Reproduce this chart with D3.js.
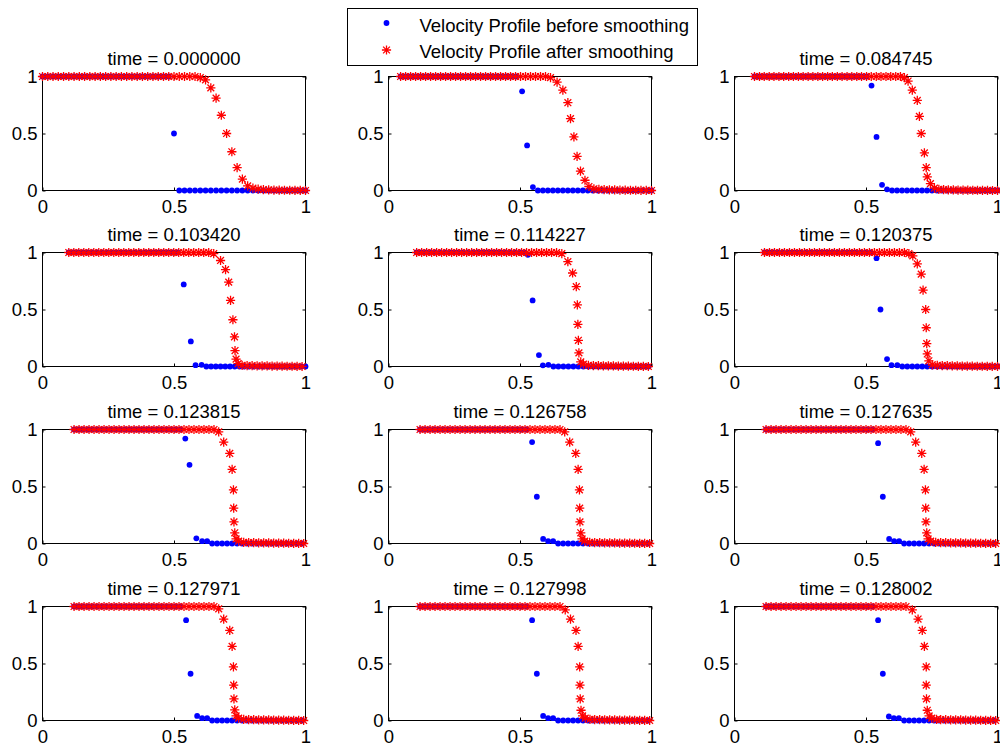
<!DOCTYPE html>
<html><head><meta charset="utf-8">
<script src="https://cdn.jsdelivr.net/npm/d3@7"></script>
<style>
body{margin:0;background:#fff}
svg{display:block}
text{font-family:"Liberation Sans",Arial,Helvetica,sans-serif}
</style>
</head><body>
<svg id="c" width="1000" height="747"></svg>
<script>
// ---------------- data ----------------
const times = ["0.000000", null, "0.084745", "0.103420", "0.114227", "0.120375",
               "0.123815", "0.126758", "0.127635", "0.127971", "0.127998", "0.128002"];
const xTicks = [0, 0.5, 1];
const xTickLabels = ["0", "0.5", "1"];
const yTicks = [0, 0.5, 1];
const yTickLabels = ["0", "0.5", "1"];
const legendLabels = ["Velocity Profile before smoothing", "Velocity Profile after smoothing"];

const gridT0 = [0,0.02,0.04,0.06,0.08,0.1,0.12,0.14,0.16,0.18,0.2,0.22,0.24,0.26,0.28,0.3,0.32,0.34,0.36,0.38,0.4,0.42,0.44,0.46,0.48,
  0.5,0.52,0.54,0.56,0.58,0.6,0.62,0.64,0.66,0.68,0.7,0.72,0.74,0.76,0.78,0.8,0.82,0.84,0.86,0.88,0.9,0.92,0.94,0.96,0.98,1];

const ones24 = [1,1,1,1,1, 1,1,1,1,1, 1,1,1,1,1, 1,1,1,1,1, 1,1,1,1];
const ones29 = [1,1,1,1,1, 1,1,1,1,1, 1,1,1,1,1, 1,1,1,1,1, 1,1,1,1,1, 1,1,1,1];
const zeros19 = [0,0,0,0,0, 0,0,0,0,0, 0,0,0,0,0, 0,0,0,0];
const zeros20 = [0,0,0,0,0, 0,0,0,0,0, 0,0,0,0,0, 0,0,0,0,0];
const zeros22 = [0,0,0,0,0, 0,0,0,0,0, 0,0,0,0,0, 0,0,0,0,0, 0,0];

const bluePlateauLate = [0.120,0.138,0.155,0.173,0.190,0.208,0.226,0.243,0.261,0.278,0.296,0.314,0.331,0.349,0.366,0.384,0.402,0.419,0.437,0.454,0.472,0.490,0.507,0.525];
const blueTailLate = [0.645,0.664,0.683,0.702,0.721,0.740,0.759,0.778,0.797,0.816,0.835,0.854,0.873,0.892,0.911,0.930,0.949,0.968,0.987];
const redPlateauLate = [0.120,0.139,0.158,0.177,0.196,0.215,0.234,0.253,0.272,0.291,0.310,0.329,0.348,0.367,0.386,0.405,0.424,0.443,0.462,0.481,0.500,0.519,0.538,0.557,0.576,0.595,0.614,0.633,0.652];
const redTailLate = [0.784,0.803,0.822,0.841,0.860,0.879,0.898,0.917,0.936,0.955,0.974,0.993];
const redTailLateY = [0.008,0.007,0.006,0.005,0.005,0.004,0.003,0.003,0.002,0.001,0.001,0];

const blueX = [
  gridT0,
  [0.046,0.065,0.084,0.103,0.122,0.141,0.160,0.180,0.199,0.218,0.237,0.256,0.275,0.294,0.313,0.332,0.351,0.370,0.389,0.409,0.428,0.447,0.466,0.485,
   0.508,0.527,0.549,
   0.568,0.587,0.606,0.625,0.644,0.663,0.682,0.701,0.720,0.739,0.758,0.777,0.796,0.815,0.834,0.853,0.872,0.891,0.910,0.929,0.948,0.967,0.986,1.0],
  [0.076,0.094,0.113,0.131,0.150,0.168,0.187,0.205,0.224,0.242,0.261,0.279,0.298,0.316,0.335,0.353,0.372,0.390,0.409,0.427,0.446,0.464,0.483,0.501,
   0.521,0.540,0.561,0.580,
   0.599,0.618,0.637,0.656,0.675,0.694,0.713,0.732,0.751,0.770,0.789,0.808,0.827,0.846,0.865,0.884,0.903,0.922,0.941,0.960,0.979,1.0],
  [0.100,0.118,0.136,0.154,0.172,0.190,0.208,0.226,0.244,0.262,0.280,0.298,0.316,0.334,0.352,0.370,0.388,0.406,0.424,0.442,0.460,0.478,0.496,0.514,
   0.537,0.564,0.582,0.605,
   0.623,0.641,0.659,0.677,0.695,0.713,0.731,0.749,0.767,0.785,0.803,0.821,0.839,0.857,0.875,0.893,0.911,0.929,0.947,0.965,0.983,1.0],
  [0.107,0.125,0.143,0.160,0.178,0.196,0.214,0.232,0.249,0.267,0.285,0.303,0.321,0.338,0.356,0.374,0.392,0.410,0.427,0.445,0.463,0.481,0.499,0.516,
   0.530,0.548,0.572,0.587,0.608,
   0.627,0.646,0.665,0.684,0.703,0.722,0.741,0.760,0.779,0.798,0.817,0.836,0.855,0.874,0.893,0.912,0.931,0.950,0.969,0.988],
  [0.114,0.132,0.149,0.167,0.184,0.202,0.219,0.237,0.254,0.272,0.289,0.307,0.324,0.342,0.359,0.377,0.394,0.412,0.429,0.447,0.464,0.482,0.499,0.517,
   0.540,0.555,0.580,0.597,0.619,
   0.638,0.657,0.676,0.695,0.714,0.733,0.752,0.771,0.790,0.809,0.828,0.847,0.866,0.885,0.904,0.923,0.942,0.961,0.980,1.0],
  [...bluePlateauLate, 0.543,0.559,0.585,0.607,0.626, ...blueTailLate],
  [...bluePlateauLate, 0.546,0.564,0.588,0.607,0.626, ...blueTailLate],
  [...bluePlateauLate, 0.546,0.564,0.588,0.607,0.626, ...blueTailLate],
  [...bluePlateauLate, 0.546,0.563,0.588,0.607,0.626, ...blueTailLate],
  [...bluePlateauLate, 0.546,0.564,0.588,0.607,0.626, ...blueTailLate],
  [...bluePlateauLate, 0.546,0.564,0.587,0.606,0.625, ...blueTailLate]
];
const blueY = [
  [1,1,1,1,1, 1,1,1,1,1, 1,1,1,1,1, 1,1,1,1,1, 1,1,1,1,1, 0.5, 0,0,0,0,0, 0,0,0,0,0, 0,0,0,0,0, 0,0,0,0,0, 0,0,0,0,0],
  [...ones24, 0.87,0.395,0.03, 0, ...zeros22, 0],
  [...ones24, 0.92,0.47,0.05,0.01, ...zeros22],
  [...ones24, 0.72,0.22,0.012,0.015, ...zeros22],
  [...ones24, 0.98,0.58,0.10,0.01,0.015, ...zeros20],
  [...ones24, 0.95,0.50,0.065,0.012,0.012, ...zeros20],
  [...ones24, 0.92,0.69,0.045,0.02,0.02, ...zeros19],
  [...ones24, 0.89,0.41,0.04,0.02,0.02, ...zeros19],
  [...ones24, 0.88,0.41,0.04,0.02,0.02, ...zeros19],
  [...ones24, 0.88,0.41,0.04,0.02,0.02, ...zeros19],
  [...ones24, 0.88,0.41,0.04,0.02,0.02, ...zeros19],
  [...ones24, 0.88,0.41,0.035,0.02,0.02, ...zeros19]
];

const redX = [
  gridT0,
  [0.046,0.065,0.084,0.103,0.122,0.141,0.160,0.179,0.198,0.217,0.236,0.255,0.274,0.293,0.312,0.331,0.350,0.369,0.388,0.407,0.426,0.445,0.464,0.483,0.502,0.521,0.540,0.559,0.578,0.597,0.616,
   0.641,0.663,0.682,0.692,0.705,0.717,0.730,0.747,0.762,0.781,
   0.800,0.820,0.840,0.860,0.880,0.900,0.920,0.940,0.960,0.980,1.0],
  [0.076,0.095,0.113,0.132,0.150,0.169,0.187,0.206,0.224,0.243,0.261,0.280,0.298,0.317,0.335,0.354,0.372,0.391,0.409,0.428,0.446,0.465,0.483,0.502,0.520,0.539,0.557,0.576,0.594,0.613,0.631,
   0.646,0.660,0.676,0.695,0.703,0.710,0.722,0.729,0.733,0.745,0.760,0.777,
   0.795,0.813,0.832,0.850,0.869,0.887,0.906,0.924,0.943,0.962,0.981,1.0],
  [0.100,0.119,0.138,0.157,0.176,0.195,0.214,0.233,0.252,0.271,0.290,0.309,0.328,0.347,0.366,0.385,0.404,0.423,0.442,0.461,0.480,0.499,0.518,0.537,0.556,0.575,0.594,0.613,0.632,
   0.651,0.677,0.696,0.708,0.715,0.724,0.730,0.732,0.736,0.744,0.759,
   0.778,0.797,0.816,0.835,0.854,0.873,0.892,0.911,0.930,0.949,0.968,0.987],
  [0.107,0.126,0.145,0.164,0.183,0.202,0.221,0.240,0.259,0.278,0.297,0.316,0.335,0.354,0.373,0.392,0.411,0.430,0.449,0.468,0.487,0.506,0.525,0.544,0.563,0.582,0.601,0.620,0.639,
   0.659,0.682,0.700,0.714,0.718,0.720,0.722,0.724,0.731,0.741,0.760,
   0.779,0.798,0.817,0.836,0.855,0.874,0.893,0.912,0.931,0.950,0.969,0.988],
  [0.114,0.133,0.152,0.171,0.190,0.209,0.228,0.247,0.266,0.285,0.304,0.323,0.342,0.361,0.380,0.399,0.418,0.437,0.456,0.475,0.494,0.513,0.532,0.551,0.570,0.589,0.608,0.627,0.646,
   0.663,0.678,0.695,0.710,0.717,0.727,0.729,0.731,0.733,0.739,0.752,0.771,
   0.790,0.809,0.828,0.847,0.866,0.885,0.904,0.923,0.942,0.961,0.980,1.0],
  [...redPlateauLate, 0.670,0.689,0.712,0.721,0.726,0.727,0.728,0.731,0.736,0.746,0.765, ...redTailLate],
  [...redPlateauLate, 0.670,0.689,0.712,0.721,0.726,0.727,0.728,0.731,0.736,0.746,0.765, ...redTailLate],
  [...redPlateauLate, 0.670,0.689,0.712,0.721,0.726,0.727,0.728,0.731,0.736,0.746,0.765, ...redTailLate],
  [...redPlateauLate, 0.670,0.689,0.712,0.721,0.726,0.727,0.728,0.731,0.736,0.746,0.765, ...redTailLate],
  [...redPlateauLate, 0.672,0.692,0.713,0.721,0.727,0.728,0.729,0.732,0.738,0.748,0.766, ...redTailLate],
  [...redPlateauLate, 0.676,0.698,0.714,0.722,0.729,0.729,0.730,0.733,0.740,0.750,0.768, ...redTailLate]
];
const redY = [
  [1,1,1,1,1, 1,1,1,1,1, 1,1,1,1,1, 1,1,1,1,1, 1,1,1,1,1, 1,1,1,1,1,
   0.99,0.97,0.90,0.81,0.66,0.50,0.34,0.20,0.10,0.04,0.02,0.012,0.008,0.006,
   0.004,0.003,0.002,0.002,0.001,0.001,0],
  [1,1,1,1,1, 1,1,1,1,1, 1,1,1,1,1, 1,1,1,1,1, 1,1,1,1,1, 1,1,1,1,1, 0.99,
   0.95,0.88,0.77,0.63,0.47,0.30,0.17,0.09,0.035,0.015,
   0.01,0.008,0.006,0.005,0.004,0.003,0.002,0.002,0.001,0.001,0],
  [1,1,1,1,1, 1,1,1,1,1, 1,1,1,1,1, 1,1,1,1,1, 1,1,1,1,1, 1,1,1,1,1, 1,
   0.99,0.96,0.88,0.79,0.65,0.50,0.33,0.20,0.12,0.06,0.02,0.01,
   0.008,0.006,0.005,0.004,0.003,0.003,0.002,0.002,0.001,0.001,0,0],
  [...ones29, 0.99,0.93,0.85,0.74,0.58,0.41,0.26,0.14,0.065,0.025,0.01,
   0.008,0.008,0.006,0.006,0.005,0.004,0.004,0.003,0.002,0.002,0.001,0],
  [...ones29, 0.99,0.92,0.82,0.70,0.54,0.37,0.23,0.12,0.04,0.02,0.01,
   0.008,0.007,0.006,0.005,0.005,0.004,0.003,0.003,0.002,0.001,0.001,0],
  [...ones29, 0.99,0.97,0.90,0.81,0.67,0.50,0.34,0.20,0.11,0.05,0.015,0.01,
   0.008,0.007,0.006,0.005,0.004,0.004,0.003,0.002,0.002,0.001,0.001,0],
  [...ones29, 0.98,0.89,0.79,0.65,0.47,0.31,0.19,0.094,0.04,0.02,0.01, ...redTailLateY],
  [...ones29, 0.98,0.89,0.79,0.65,0.47,0.31,0.19,0.094,0.04,0.02,0.01, ...redTailLateY],
  [...ones29, 0.98,0.89,0.79,0.65,0.47,0.31,0.19,0.094,0.04,0.02,0.01, ...redTailLateY],
  [...ones29, 0.98,0.89,0.79,0.65,0.47,0.31,0.19,0.094,0.04,0.02,0.01, ...redTailLateY],
  [...ones29, 0.97,0.89,0.79,0.65,0.47,0.31,0.19,0.09,0.04,0.02,0.01, ...redTailLateY],
  [...ones29, 0.97,0.89,0.79,0.65,0.47,0.31,0.19,0.09,0.04,0.02,0.01, ...redTailLateY]
];

// ---------------- drawing ----------------
const svg = d3.select("#c");
svg.append("rect").attr("width", 1000).attr("height", 747).attr("fill", "#fff");

const colLeft = [42, 388, 734];
const rowTop = [76, 252, 429, 606];
const PW = 263, PH = 114, FS = 18.5;
const BLUE = "#0000ff", RED = "#ff0000";
const starPath = "M-4.6,0H4.6M0,-4.6V4.6M-3.4,-3.4L3.4,3.4M-3.4,3.4L3.4,-3.4";
const DOT_R = 2.9, STAR_W = 1.3;

const x = d3.scaleLinear().domain([0, 1]).range([0, PW]);
const y = d3.scaleLinear().domain([0, 1]).range([PH, 0]);

function styleAxis(sel) {
  sel.attr("font-size", FS);
  sel.select(".domain").remove();
  sel.selectAll("line").attr("stroke", "#000");
  sel.selectAll("text").attr("fill", "#000");
}

for (let i = 0; i < 12; i++) {
  const col = i % 3, row = Math.floor(i / 3);
  const g = svg.append("g")
    .attr("transform", `translate(${colLeft[col] + 0.5},${rowTop[row] + 0.5})`);

  g.append("rect").attr("width", PW).attr("height", PH)
    .attr("fill", "none").attr("stroke", "#000").attr("stroke-width", 1);

  g.append("g").attr("transform", `translate(0,${PH})`)
    .call(d3.axisBottom(x).tickValues(xTicks).tickFormat((d, k) => xTickLabels[k])
      .tickSizeInner(-3).tickSizeOuter(0).tickPadding(9.5))
    .call(styleAxis);
  g.append("g")
    .call(d3.axisTop(x).tickValues(xTicks).tickFormat(() => "")
      .tickSizeInner(-3).tickSizeOuter(0))
    .call(styleAxis);
  g.append("g")
    .call(d3.axisLeft(y).tickValues(yTicks).tickFormat((d, k) => yTickLabels[k])
      .tickSizeInner(-3).tickSizeOuter(0).tickPadding(5))
    .call(styleAxis);
  g.append("g").attr("transform", `translate(${PW},0)`)
    .call(d3.axisRight(y).tickValues(yTicks).tickFormat(() => "")
      .tickSizeInner(-3).tickSizeOuter(0))
    .call(styleAxis);

  const bData = d3.zip(blueX[i], blueY[i]);
  g.append("g").selectAll("circle").data(bData).join("circle")
    .attr("cx", d => x(d[0])).attr("cy", d => y(d[1]))
    .attr("r", DOT_R).attr("fill", BLUE);

  const rData = d3.zip(redX[i], redY[i]);
  g.append("g").selectAll("path").data(rData).join("path")
    .attr("transform", d => `translate(${x(d[0])},${y(d[1])})`)
    .attr("d", starPath).attr("fill", "none")
    .attr("stroke", RED).attr("stroke-width", STAR_W);

  if (times[i] !== null) {
    g.append("text").attr("x", PW / 2).attr("y", -11.5)
      .attr("text-anchor", "middle").attr("font-size", FS).attr("fill", "#000")
      .text("time = " + times[i]);
  }
}

// legend
const lg = svg.append("g").attr("transform", "translate(347.5,8.5)");
lg.append("rect").attr("width", 350).attr("height", 57)
  .attr("fill", "#fff").attr("stroke", "#000").attr("stroke-width", 1);
lg.append("circle").attr("cx", 39).attr("cy", 14.5).attr("r", DOT_R).attr("fill", BLUE);
lg.append("path").attr("transform", "translate(39,41.5)").attr("d", starPath)
  .attr("fill", "none").attr("stroke", RED).attr("stroke-width", STAR_W);
lg.selectAll("text.lbl").data(legendLabels).join("text").attr("class", "lbl")
  .attr("x", 72).attr("y", (d, k) => 23 + k * 26.5)
  .attr("font-size", FS).attr("fill", "#000").text(d => d);
</script>
</body></html>
